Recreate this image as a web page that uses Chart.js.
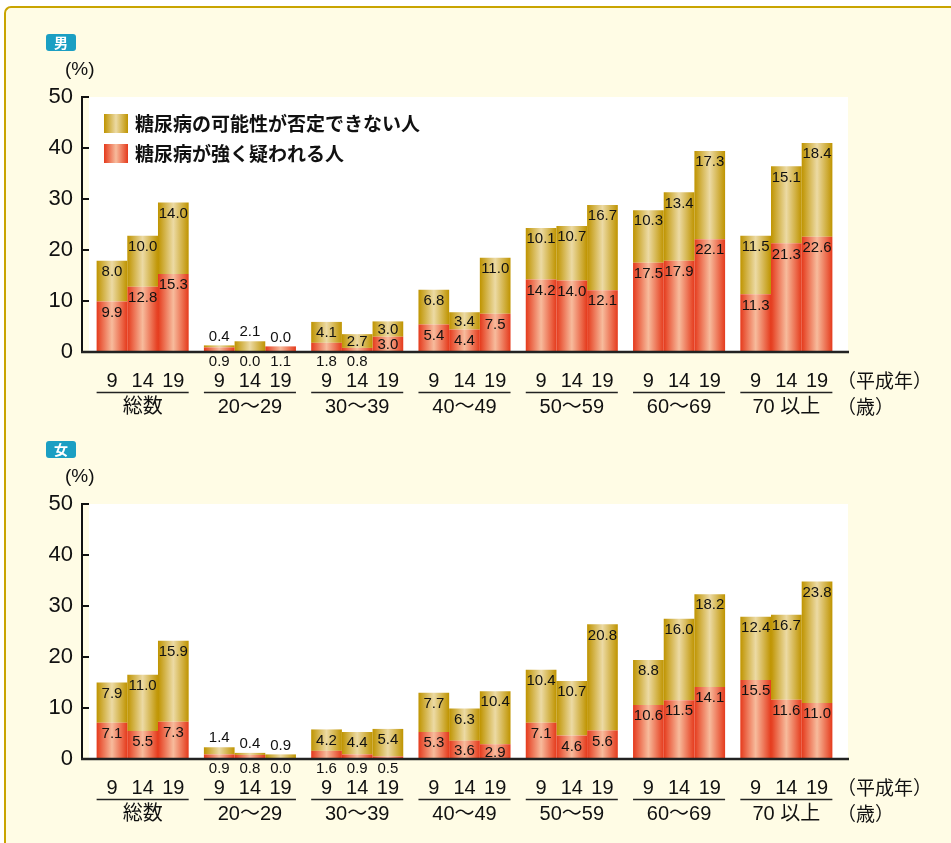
<!DOCTYPE html>
<html>
<head>
<meta charset="utf-8">
<script src="https://cdn.jsdelivr.net/npm/chart.js@4.4.1/dist/chart.umd.min.js"></script>
<style>
  html, body { margin: 0; padding: 0; background: #fff; overflow: hidden; }
  #frame {
    position: absolute; left: 4px; top: 6px; width: 960px; height: 850px;
    background: #fffce5; border-top: 2px solid #c9a400; border-left: 2px solid #c9a400;
    border-top-left-radius: 7px;
  }
  canvas { position: absolute; left: 0; }
</style>
</head>
<body>
<div id="frame"></div>
<canvas id="male" width="951" height="436" style="top:0"></canvas>
<canvas id="female" width="951" height="436" style="top:407px"></canvas>
<script>
const groups = ['総数', '20～29', '30～39', '40～49', '50～59', '60～69', '70 以上'];
const years = ['9', '14', '19'];
const yTicks = [0, 10, 20, 30, 40, 50];

// rows = age groups, columns = 平成9, 14, 19年
const maleStrong = [
  [9.9, 12.8, 15.3], [0.9, 0.0, 1.1], [1.8, 0.8, 3.0], [5.4, 4.4, 7.5],
  [14.2, 14.0, 12.1], [17.5, 17.9, 22.1], [11.3, 21.3, 22.6]
];
const malePossible = [
  [8.0, 10.0, 14.0], [0.4, 2.1, 0.0], [4.1, 2.7, 3.0], [6.8, 3.4, 11.0],
  [10.1, 10.7, 16.7], [10.3, 13.4, 17.3], [11.5, 15.1, 18.4]
];
const femaleStrong = [
  [7.1, 5.5, 7.3], [0.9, 0.8, 0.0], [1.6, 0.9, 0.5], [5.3, 3.6, 2.9],
  [7.1, 4.6, 5.6], [10.6, 11.5, 14.1], [15.5, 11.6, 11.0]
];
const femalePossible = [
  [7.9, 11.0, 15.9], [1.4, 0.4, 0.9], [4.2, 4.4, 5.4], [7.7, 6.3, 10.4],
  [10.4, 10.7, 20.8], [8.8, 16.0, 18.2], [12.4, 16.7, 23.8]
];

const FONT = '"Liberation Sans", "Noto Sans CJK JP", sans-serif';
const CJK = '"Noto Sans CJK JP", sans-serif';
Chart.defaults.font.family = FONT;

const colors = {
  strong: ['#e53a1c', '#f7bb9c'],
  possible: ['#bf9400', '#ecdaa4']
};

function barFill(ctx, x0, x1, pair) {
  const g = ctx.createLinearGradient(x0, 0, x1, 0);
  g.addColorStop(0, pair[0]);
  g.addColorStop(0.5, pair[1]);
  g.addColorStop(1, pair[0]);
  return g;
}

function makeChart(id, strong, possible, badge, withLegend) {
  const datasets = [];
  years.forEach((y, k) => {
    datasets.push({
      label: '糖尿病が強く疑われる人', kind: 'strong', stack: 'y' + y,
      data: strong.map(r => r[k]), backgroundColor: () => colors.strong[0]
    });
    datasets.push({
      label: '糖尿病の可能性が否定できない人', kind: 'possible', stack: 'y' + y,
      data: possible.map(r => r[k]), backgroundColor: () => colors.possible[0]
    });
  });

  const deco = {
    id: 'deco',
    beforeDraw(chart) {
      const { ctx, chartArea: a } = chart;
      ctx.save();
      ctx.fillStyle = '#fff';
      ctx.fillRect(a.left, a.top, a.right + 8 - a.left, a.bottom - a.top);
      // badge
      ctx.fillStyle = '#1b9fc3';
      ctx.beginPath();
      ctx.roundRect(46, 34, 30, 17, 3);
      ctx.fill();
      ctx.fillStyle = '#fff';
      ctx.font = 'bold 14px ' + CJK;
      ctx.textAlign = 'center';
      ctx.textBaseline = 'middle';
      ctx.fillText(badge, 61, 43);
      ctx.fillStyle = '#111';
      ctx.font = '19px ' + FONT;
      ctx.textAlign = 'left';
      ctx.fillText('(%)', 65, 70);
      ctx.restore();
    },
    beforeDatasetsDraw(chart) {
      chart.data.datasets.forEach((ds, i) => {
        chart.getDatasetMeta(i).data.forEach(el => {
          el.options.backgroundColor = barFill(chart.ctx, el.x - el.width / 2, el.x + el.width / 2, colors[ds.kind]);
        });
      });
    },
    afterDatasetsDraw(chart) {
      const { ctx, chartArea: a, scales } = chart;
      ctx.save();
      // value labels
      ctx.font = '15px ' + FONT;
      ctx.fillStyle = '#111';
      ctx.textAlign = 'center';
      ctx.textBaseline = 'middle';
      chart.data.datasets.forEach((ds, i) => {
        chart.getDatasetMeta(i).data.forEach((el, j) => {
          const v = ds.data[j];
          const h = el.base - el.y;
          let cy;
          if (h >= 12) cy = el.y + Math.min(11, h / 2 + 1);
          else if (ds.kind === 'possible') cy = el.y - 9;
          else cy = a.bottom + 10;
          ctx.fillText(v.toFixed(1), el.x, cy);
        });
      });
      // y axis line + inward ticks
      const ax = a.left - 7;
      ctx.strokeStyle = '#111';
      ctx.lineWidth = 2;
      ctx.beginPath();
      ctx.moveTo(ax, scales.y.getPixelForValue(50) - 1);
      ctx.lineTo(ax, a.bottom);
      yTicks.forEach(v => {
        const y = scales.y.getPixelForValue(v);
        ctx.moveTo(ax, y);
        ctx.lineTo(a.left, y);
      });
      ctx.stroke();
      // baseline
      ctx.strokeStyle = '#222';
      ctx.lineWidth = 2.5;
      ctx.beginPath();
      ctx.moveTo(ax - 1, a.bottom);
      ctx.lineTo(a.right + 9, a.bottom);
      ctx.stroke();
      // year labels and underline per group
      ctx.font = '20px ' + FONT;
      ctx.lineWidth = 1.5;
      groups.forEach((g, i) => {
        const els = years.map((y, k) => chart.getDatasetMeta(2 * k).data[i]);
        els.forEach((el, k) => ctx.fillText(years[k], el.x, a.bottom + 29));
        const x0 = els[0].x - els[0].width / 2;
        const x1 = els[2].x + els[2].width / 2;
        ctx.beginPath();
        ctx.moveTo(x0, a.bottom + 40.5);
        ctx.lineTo(x1, a.bottom + 40.5);
        ctx.stroke();
      });
      ctx.font = '19px ' + CJK;
      ctx.textAlign = 'left';
      ctx.fillText('（平成年）', 837, a.bottom + 29);
      ctx.fillText('（歳）', 837, a.bottom + 55);
      // legend
      if (withLegend) {
        const items = [['糖尿病の可能性が否定できない人', 'possible'], ['糖尿病が強く疑われる人', 'strong']];
        items.forEach(([text, kind], n) => {
          const top = 114 + n * 30;
          ctx.fillStyle = barFill(ctx, 104, 128, colors[kind]);
          ctx.fillRect(104, top, 24, 19);
          ctx.fillStyle = '#111';
          ctx.font = 'bold 19px ' + CJK;
          ctx.fillText(text, 135, top + 10);
        });
      }
      ctx.restore();
    }
  };

  return new Chart(document.getElementById(id), {
    type: 'bar',
    data: { labels: groups, datasets },
    options: {
      responsive: false,
      animation: false,
      layout: { padding: { top: 97, left: 0, right: 111, bottom: 0 } },
      datasets: { bar: { barPercentage: 1, categoryPercentage: 0.858, borderWidth: 0 } },
      plugins: { legend: { display: false }, tooltip: { enabled: false } },
      scales: {
        x: {
          stacked: true,
          grid: { display: false, drawTicks: false },
          border: { display: false },
          ticks: { color: '#111', font: { size: 20 }, padding: 43 },
          afterFit: s => { s.height = 84; }
        },
        y: {
          stacked: true,
          min: 0, max: 50,
          grid: { display: false, drawTicks: false },
          border: { display: false },
          ticks: { stepSize: 10, color: '#111', font: { size: 22 }, padding: 16 },
          afterFit: s => { s.width = 89; }
        }
      }
    },
    plugins: [deco]
  });
}

makeChart('male', maleStrong, malePossible, '男', true);
makeChart('female', femaleStrong, femalePossible, '女', false);
</script>
</body>
</html>
